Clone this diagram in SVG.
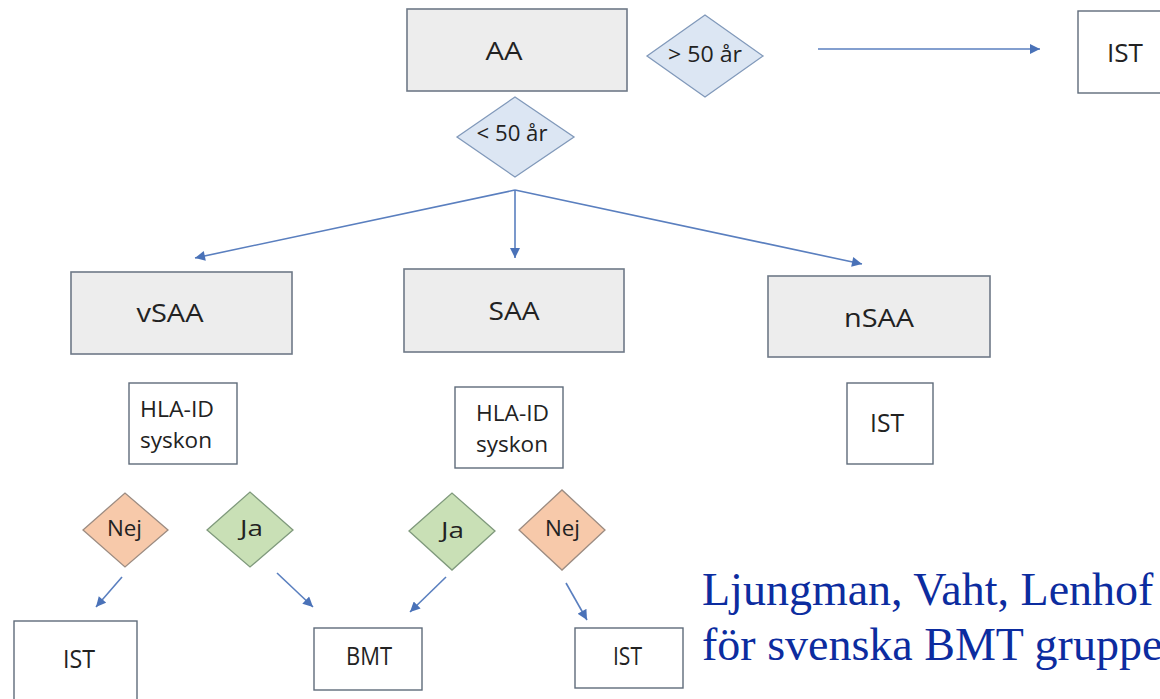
<svg xmlns="http://www.w3.org/2000/svg" width="1160" height="699" viewBox="0 0 1160 699">
<defs>
<marker id="ah" viewBox="0 0 10 10" refX="10" refY="5" markerWidth="11" markerHeight="10" markerUnits="userSpaceOnUse" orient="auto">
<path d="M0,0 L10,5 L0,10 z" fill="#4a72b8"/>
</marker>
<style>
.g{fill:#ededed;stroke:#6e7987;stroke-width:1.6}
.w{fill:#ffffff;stroke:#5f6b7a;stroke-width:1.4}
.d{fill:#dce6f3;stroke:#8199ba;stroke-width:1.3}
.n{fill:#f7c9aa;stroke:#9c8c82;stroke-width:1.3}
.y{fill:#c9e0b6;stroke:#7f997c;stroke-width:1.3}
text{font-family:"Open Sans","Liberation Sans",sans-serif;fill:#222;}
.t{font-size:25px;text-anchor:middle}
.s{font-size:22px}
.m{font-size:21px;text-anchor:middle}
.c{font-family:"Liberation Serif","Times New Roman",serif;font-size:46px;fill:#0c2c9f}
.ln{stroke:#5a7fbf;stroke-width:1.6;fill:none;marker-end:url(#ah)}
</style>
</defs>
<rect width="1160" height="699" fill="#ffffff"/>

<g id="connectors">
<line class="ln" x1="818" y1="49" x2="1040" y2="49"/>
<line class="ln" x1="515" y1="190" x2="195" y2="258"/>
<line class="ln" x1="515" y1="190" x2="515" y2="258"/>
<line class="ln" x1="515" y1="190" x2="862" y2="264"/>
<line class="ln" x1="122" y1="577" x2="96" y2="607"/>
<line class="ln" x1="277" y1="573" x2="313" y2="607"/>
<line class="ln" x1="446" y1="577" x2="410" y2="612"/>
<line class="ln" x1="566" y1="583" x2="587" y2="620"/>
</g>

<g id="aa"><rect class="g" x="407" y="9" width="220" height="82"/><text class="t" x="504" y="60" textLength="37" lengthAdjust="spacingAndGlyphs">AA</text></g>
<g id="gt50"><polygon class="d" points="647,56 705,15 763,56 705,97"/><text class="m" x="705" y="62" textLength="74" lengthAdjust="spacingAndGlyphs">&gt; 50 år</text></g>
<g id="lt50"><polygon class="d" points="457,137 515,97 574,137 515,177"/><text class="m" x="512" y="141" textLength="71" lengthAdjust="spacingAndGlyphs">&lt; 50 år</text></g>
<g id="ist-top"><rect class="w" x="1078" y="11" width="100" height="82"/><text class="t" x="1125" y="62" textLength="36" lengthAdjust="spacingAndGlyphs">IST</text></g>

<g id="vsaa"><rect class="g" x="71" y="272" width="221" height="82"/><text class="t" x="170" y="322" textLength="67" lengthAdjust="spacingAndGlyphs">vSAA</text></g>
<g id="saa"><rect class="g" x="404" y="269" width="220" height="83"/><text class="t" x="514" y="320" textLength="51" lengthAdjust="spacingAndGlyphs">SAA</text></g>
<g id="nsaa"><rect class="g" x="768" y="276" width="222" height="81"/><text class="t" x="879" y="327" textLength="70" lengthAdjust="spacingAndGlyphs">nSAA</text></g>

<g id="hla1"><rect class="w" x="129" y="383" width="108" height="81"/><text class="s" x="140" y="417" textLength="74" lengthAdjust="spacingAndGlyphs">HLA-ID</text><text class="s" x="140" y="448" textLength="72" lengthAdjust="spacingAndGlyphs">syskon</text></g>
<g id="hla2"><rect class="w" x="455" y="387" width="108" height="81"/><text class="s" x="476" y="421" textLength="73" lengthAdjust="spacingAndGlyphs">HLA-ID</text><text class="s" x="476" y="452" textLength="72" lengthAdjust="spacingAndGlyphs">syskon</text></g>
<g id="ist-nsaa"><rect class="w" x="847" y="383" width="86" height="81"/><text class="t" x="887" y="432" textLength="34" lengthAdjust="spacingAndGlyphs">IST</text></g>

<g id="nej1"><polygon class="n" points="83,530 125,493 168,530 125,567"/><text class="m" x="124.5" y="536" textLength="35" lengthAdjust="spacingAndGlyphs">Nej</text></g>
<g id="ja1"><polygon class="y" points="207,530 250,492 293,530 250,567"/><text class="m" x="251.5" y="536" textLength="23" lengthAdjust="spacingAndGlyphs">Ja</text></g>
<g id="ja2"><polygon class="y" points="409,531 452,493 495,531 452,570"/><text class="m" x="452.5" y="538" textLength="23" lengthAdjust="spacingAndGlyphs">Ja</text></g>
<g id="nej2"><polygon class="n" points="519,530 562,490 605,530 562,570"/><text class="m" x="562.5" y="536" textLength="35" lengthAdjust="spacingAndGlyphs">Nej</text></g>

<g id="ist-left"><rect class="w" x="14" y="621" width="123" height="90"/><text class="t" x="79" y="668" textLength="32" lengthAdjust="spacingAndGlyphs">IST</text></g>
<g id="bmt"><rect class="w" x="314" y="628" width="108" height="62"/><text class="t" x="369" y="665" textLength="46" lengthAdjust="spacingAndGlyphs">BMT</text></g>
<g id="ist-mid"><rect class="w" x="575" y="628" width="108" height="60"/><text class="t" x="627.5" y="665" textLength="29" lengthAdjust="spacingAndGlyphs">IST</text></g>

<g id="citation">
<text class="c" x="702" y="605">Ljungman, Vaht, Lenhof</text>
<text class="c" x="702" y="660">för svenska BMT gruppe</text>
</g>
</svg>
